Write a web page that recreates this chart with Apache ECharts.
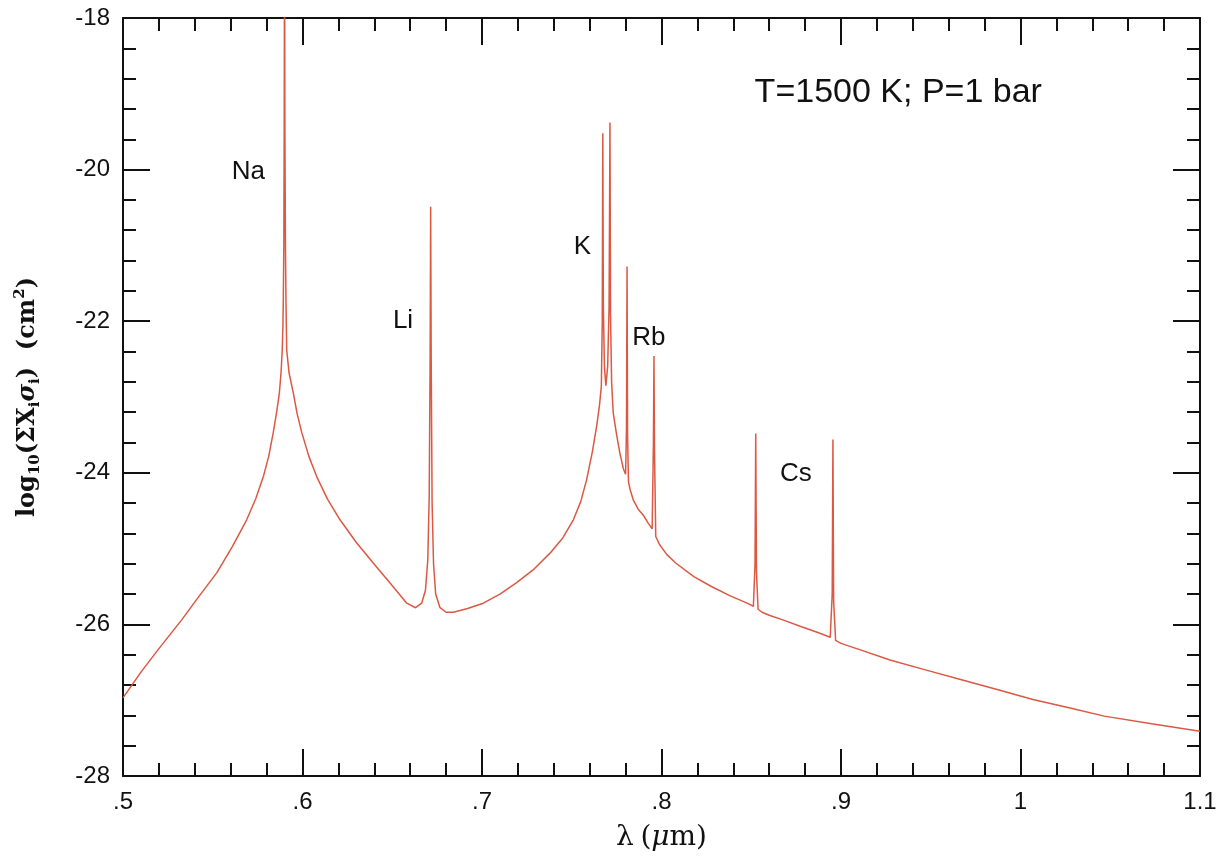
<!DOCTYPE html>
<html><head><meta charset="utf-8">
<script src="https://cdn.jsdelivr.net/npm/echarts@6/dist/echarts.min.js"></script>
<style>html,body{margin:0;padding:0;background:#fff}#chart{width:1225px;height:858px}</style>
</head><body><div id="chart"></div>
<script>
// ---- data ----
const xTickLabels = ['.5', '.6', '.7', '.8', '.9', '1', '1.1'];
const yTickLabels = ['-28', '-26', '-24', '-22', '-20', '-18'];

const wavelength = [
  0.5000, 0.5100, 0.5200, 0.5327, 0.5420, 0.5522, 0.5610, 0.5689, 0.5740, 0.5782,
  0.5812, 0.5837, 0.5856, 0.5871, 0.5881, 0.5887, 0.5891, 0.5893, 0.5896, 0.5898,
  0.5900, 0.5902, 0.5905, 0.5908, 0.5912, 0.5925, 0.5949, 0.5970, 0.5996, 0.6035,
  0.6079, 0.6140, 0.6209, 0.6300, 0.6394, 0.6490, 0.6581, 0.6630, 0.6664, 0.6685,
  0.6698, 0.6706, 0.6711, 0.6714, 0.6717, 0.6722, 0.6730, 0.6742, 0.6766, 0.6800,
  0.6840, 0.6920, 0.7007, 0.7100, 0.7193, 0.7290, 0.7379, 0.7450, 0.7509, 0.7550,
  0.7583, 0.7615, 0.7639, 0.7655, 0.7665, 0.7670, 0.7673, 0.7676, 0.7682, 0.7690,
  0.7700, 0.7708, 0.7713, 0.7716, 0.7722, 0.7731, 0.7750, 0.7768, 0.7788, 0.7800,
  0.7805, 0.7808, 0.7811, 0.7816, 0.7825, 0.7843, 0.7870, 0.7899, 0.7925, 0.7948,
  0.7955, 0.7958, 0.7961, 0.7968, 0.7990, 0.8030, 0.8079, 0.8180, 0.8278, 0.8380,
  0.8477, 0.8512, 0.8521, 0.8525, 0.8529, 0.8538, 0.8560, 0.8600, 0.8676, 0.8780,
  0.8875, 0.8940, 0.8951, 0.8955, 0.8959, 0.8970, 0.9000, 0.9100, 0.9273, 0.9470,
  0.9671, 0.9870, 1.0069, 1.0270, 1.0467, 1.0730, 1.1000
];
const logCrossSection = [
  -26.97, -26.63, -26.32, -25.94, -25.64, -25.32, -24.97, -24.62, -24.34, -24.05,
  -23.78, -23.47, -23.20, -22.95, -22.66, -22.38, -22.05, -21.72, -21.00, -19.50,
  -17.00, -19.50, -21.00, -21.75, -22.38, -22.68, -22.95, -23.22, -23.47, -23.78,
  -24.05, -24.35, -24.62, -24.92, -25.19, -25.46, -25.72, -25.78, -25.72, -25.55,
  -25.15, -24.30, -22.50, -20.49, -22.50, -24.40, -25.20, -25.60, -25.78, -25.84,
  -25.84, -25.79, -25.72, -25.60, -25.45, -25.27, -25.06, -24.86, -24.62, -24.38,
  -24.09, -23.72, -23.38, -23.10, -22.85, -22.00, -19.52, -21.80, -22.60, -22.85,
  -22.60, -21.80, -19.38, -21.90, -22.80, -23.21, -23.50, -23.74, -23.95, -24.02,
  -23.40, -21.28, -23.50, -24.12, -24.22, -24.36, -24.48, -24.56, -24.66, -24.74,
  -23.60, -22.46, -23.70, -24.84, -24.95, -25.08, -25.19, -25.37, -25.50, -25.62,
  -25.72, -25.76, -25.20, -23.48, -25.30, -25.80, -25.84, -25.88, -25.94, -26.03,
  -26.11, -26.17, -25.60, -23.56, -25.70, -26.21, -26.25, -26.33, -26.47, -26.60,
  -26.73, -26.86, -26.99, -27.10, -27.21, -27.31, -27.41
];

const annotationText = ['Na', 'Li', 'K', 'Rb', 'Cs', 'T=1500 K; P=1 bar'];
const annotationX = [0.5698, 0.6560, 0.7559, 0.7930, 0.8749, 0.9319];
const annotationY = [-20.03, -22.00, -21.02, -22.22, -24.01, -18.99];

// ---- chart ----
const chart = echarts.init(document.getElementById('chart'), null, {renderer: 'canvas'});
const INK = '#111111';
const axisLineStyle = {color: INK, width: 2};
function frameAxis(extra) {
  return Object.assign({
    type: 'value',
    axisLine: {show: true, onZero: false, lineStyle: axisLineStyle},
    axisTick: {show: true, inside: true, length: 27, lineStyle: axisLineStyle},
    minorTick: {show: true, splitNumber: 5, length: 13, lineStyle: axisLineStyle},
    splitLine: {show: false},
    minorSplitLine: {show: false}
  }, extra);
}
const tickFont = {fontFamily: 'Liberation Sans, Arial, sans-serif', fontSize: 24, color: INK};

const option = {
  backgroundColor: '#ffffff',
  animation: false,
  grid: {left: 123, top: 18, width: 1077, height: 758, containLabel: false},
  xAxis: [
    frameAxis({
      min: 0.5, max: 1.1, interval: 0.1, position: 'bottom',
      axisLabel: Object.assign({
        margin: 14,
        formatter: v => xTickLabels[Math.round((v - 0.5) * 10)]
      }, tickFont),
      name: '{r|λ}  {r|(}{i|μ}{r|m)}',
      nameLocation: 'middle',
      nameGap: 48,
      nameTextStyle: {
        rich: {
          r: {fontFamily: 'DejaVu Serif, serif', fontSize: 28, color: INK},
          i: {fontFamily: 'DejaVu Serif, serif', fontSize: 28, fontStyle: 'italic', color: INK}
        }
      }
    }),
    frameAxis({min: 0.5, max: 1.1, interval: 0.1, position: 'top', axisLabel: {show: false}})
  ],
  yAxis: [
    frameAxis({
      min: -28, max: -18, interval: 2, position: 'left',
      axisLabel: Object.assign({
        margin: 13,
        formatter: v => yTickLabels[Math.round((v + 28) / 2)]
      }, tickFont),
      name: '{a|log}{s|10}{a|(ΣX}{s|i}{g|σ}{s|i}{a|)  (cm}{p|2}{a|)}',
      nameLocation: 'middle',
      nameGap: 80,
      nameRotate: 90,
      nameTextStyle: {
        rich: {
          a: {fontFamily: 'DejaVu Serif, serif', fontSize: 24, fontWeight: 'bold', color: INK, lineHeight: 30},
          g: {fontFamily: 'DejaVu Serif, serif', fontSize: 24, fontWeight: 'bold', fontStyle: 'italic', color: INK, lineHeight: 30},
          s: {fontFamily: 'DejaVu Serif, serif', fontSize: 15, fontWeight: 'bold', color: INK, verticalAlign: 'bottom', lineHeight: 15},
          p: {fontFamily: 'DejaVu Serif, serif', fontSize: 15, fontWeight: 'bold', color: INK, verticalAlign: 'top', lineHeight: 15}
        }
      }
    }),
    frameAxis({min: -28, max: -18, interval: 2, position: 'right', axisLabel: {show: false}})
  ],
  series: [
    {
      type: 'line',
      xAxisIndex: 0, yAxisIndex: 0,
      data: wavelength.map((x, i) => [x, logCrossSection[i]]),
      showSymbol: false,
      symbol: 'none',
      clip: true,
      lineStyle: {color: '#dc5843', width: 1.5},
      silent: true
    }
  ]
};
chart.setOption(option);

// annotations placed through the chart's own coordinate system
const graphics = annotationText.map((t, i) => {
  const p = chart.convertToPixel({xAxisIndex: 0, yAxisIndex: 0}, [annotationX[i], annotationY[i]]);
  const big = i === annotationText.length - 1;
  return {
    type: 'text',
    x: p[0], y: p[1],
    silent: true,
    style: {
      text: t,
      fill: INK,
      font: (big ? 34 : 26) + 'px "Liberation Sans", Arial, sans-serif',
      textAlign: 'center',
      textVerticalAlign: 'middle'
    }
  };
});
chart.setOption({graphic: graphics});
</script>
</body></html>
